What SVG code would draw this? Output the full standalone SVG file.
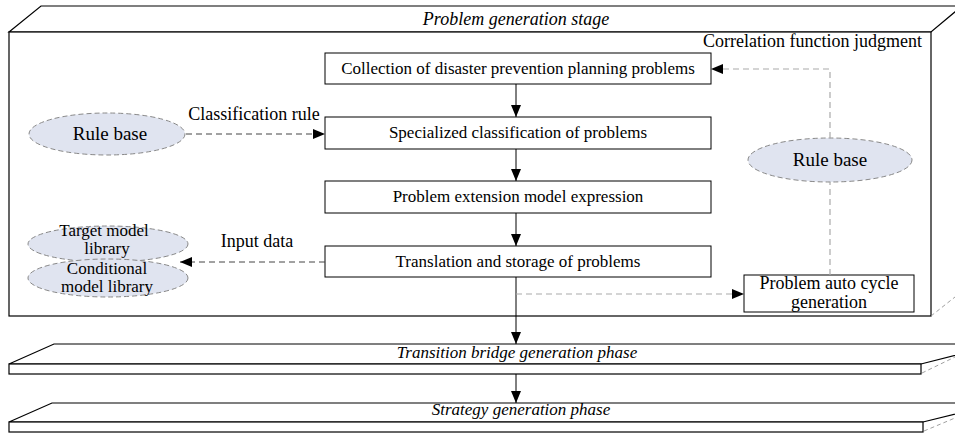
<svg xmlns="http://www.w3.org/2000/svg" width="955" height="434" viewBox="0 0 955 434">
<style>
text{font-family:"Liberation Serif","Times New Roman","DejaVu Serif",serif;font-size:17px;fill:#000}
.it{font-style:italic}
.l18{font-size:18px}
.l19{font-size:19px}
.frame{fill:#fff;stroke:#000;stroke-width:1.2}
.box{fill:#fff;stroke:#000;stroke-width:1}
.ell{fill:#e0e4f0;stroke:#888;stroke-width:1;stroke-dasharray:5,3}
.solid{fill:none;stroke:#000;stroke-width:1}
.dk{fill:none;stroke:#444;stroke-width:1;stroke-dasharray:6,4}
.lt{fill:none;stroke:#aaa;stroke-width:1.2;stroke-dasharray:6,4}
.back{fill:none;stroke:#888;stroke-width:0.8;stroke-dasharray:4,3}
</style>
<defs>
<marker id="ah" markerUnits="userSpaceOnUse" markerWidth="13" markerHeight="11" refX="12" refY="5" orient="auto">
<path d="M0,0 L12,5 L0,10 z" fill="#000"/>
</marker>
</defs>

<g id="stage-problem">
<polygon class="frame" points="9,32 41,6 962,6 931,32"/>
<rect class="frame" x="9" y="32" width="922" height="284"/>
<line class="back" x1="931" y1="316" x2="955" y2="297"/>
<text class="it l18" x="516" y="25" text-anchor="middle">Problem generation stage</text>
</g>

<g id="stage-transition">
<polygon class="frame" points="9,364 54,344 1000,344 921,364"/>
<rect class="frame" x="9" y="364" width="912" height="10"/>
<line class="back" x1="922" y1="373" x2="955" y2="357"/>
<text class="it" x="517" y="358" text-anchor="middle">Transition bridge generation phase</text>
</g>

<g id="stage-strategy">
<polygon class="frame" points="9,422 52,403 1000,403 923,422"/>
<rect class="frame" x="9" y="422" width="914" height="10"/>
<line class="back" x1="924" y1="431" x2="955" y2="418"/>
<text class="it" x="521" y="415" text-anchor="middle">Strategy generation phase</text>
</g>

<g id="label-correlation">
<text class="l18" x="922" y="47" text-anchor="end">Correlation function judgment</text>
</g>

<g id="n-collection">
<rect class="box" x="325" y="53" width="386" height="31"/>
<text x="518" y="74" text-anchor="middle">Collection of disaster prevention planning problems</text>
</g>
<g id="n-specialized">
<rect class="box" x="325" y="117" width="386" height="32"/>
<text x="518" y="138" text-anchor="middle">Specialized classification of problems</text>
</g>
<g id="n-extension">
<rect class="box" x="325" y="181" width="386" height="32"/>
<text x="518" y="202" text-anchor="middle">Problem extension model expression</text>
</g>
<g id="n-translation">
<rect class="box" x="325" y="246" width="386" height="31"/>
<text x="518" y="267" text-anchor="middle">Translation and storage of problems</text>
</g>
<g id="n-autocycle">
<rect class="box" x="744" y="275" width="170" height="37"/>
<text class="l18" x="829" y="289" text-anchor="middle">Problem auto cycle</text>
<text class="l18" x="829" y="308" text-anchor="middle">generation</text>
</g>

<g id="n-rulebase-left">
<ellipse class="ell" cx="107" cy="134" rx="78" ry="21"/>
<text class="l19" x="110" y="140" text-anchor="middle">Rule base</text>
</g>
<g id="n-rulebase-right">
<ellipse class="ell" cx="830" cy="160" rx="82" ry="22"/>
<text class="l19" x="830" y="166" text-anchor="middle">Rule base</text>
</g>
<g id="n-target">
<ellipse class="ell" cx="108" cy="244" rx="80" ry="18"/>
<text x="104" y="236" text-anchor="middle">Target model</text>
<text x="107" y="254" text-anchor="middle">library</text>
</g>
<g id="n-conditional">
<ellipse class="ell" cx="108" cy="278" rx="80" ry="19"/>
<text x="107" y="274" text-anchor="middle">Conditional</text>
<text x="107" y="292" text-anchor="middle">model library</text>
</g>

<g id="connectors">
<line class="solid" x1="516" y1="84" x2="516" y2="117" marker-end="url(#ah)"/>
<line class="solid" x1="516" y1="149" x2="516" y2="181" marker-end="url(#ah)"/>
<line class="solid" x1="516" y1="213" x2="516" y2="246" marker-end="url(#ah)"/>
<line class="solid" x1="516" y1="277" x2="516" y2="344" marker-end="url(#ah)"/>
<line class="solid" x1="516" y1="374" x2="516" y2="403" marker-end="url(#ah)"/>
<line class="dk" x1="186" y1="134" x2="325" y2="134" marker-end="url(#ah)"/>
<text class="l18" x="254" y="120" text-anchor="middle">Classification rule</text>
<line class="dk" x1="325" y1="262" x2="180" y2="262" marker-end="url(#ah)"/>
<text class="l18" x="257" y="247" text-anchor="middle">Input data</text>
<line class="lt" x1="516" y1="294" x2="744" y2="294" marker-end="url(#ah)"/>
<line class="lt" x1="830" y1="275" x2="830" y2="182"/>
<polyline class="lt" points="830,138 830,69 711,69" marker-end="url(#ah)"/>
</g>
</svg>
